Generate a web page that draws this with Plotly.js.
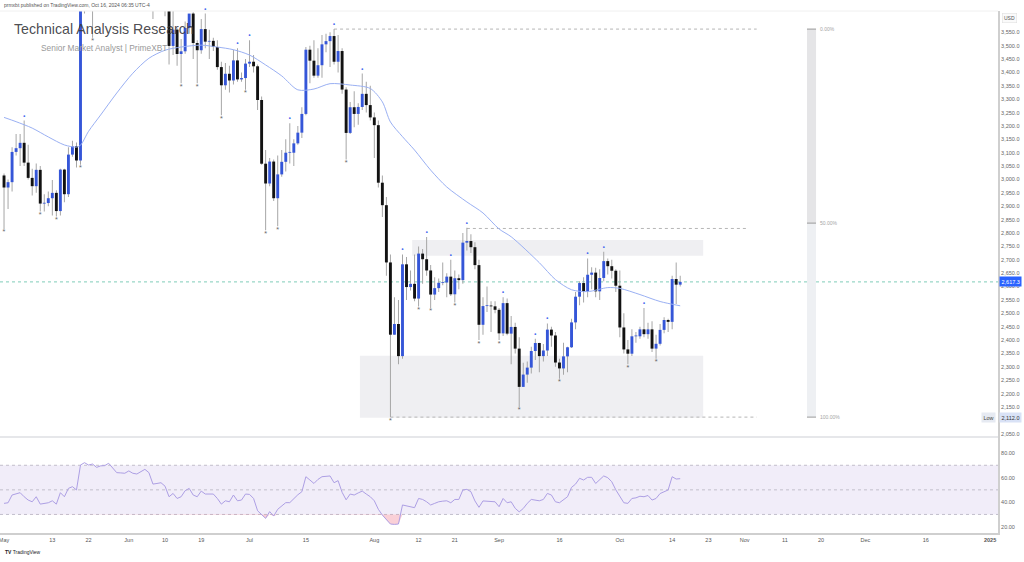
<!DOCTYPE html>
<html><head><meta charset="utf-8">
<script src="https://cdn.plot.ly/plotly-3.0.1.min.js"></script>
<style>html,body{margin:0;padding:0;background:#fff;}#chart{width:1024px;height:562px;}</style>
</head><body><div id="chart"></div>
<script>
// ---------- DATA (ETH/USD daily) ----------
const startDate = '2024-05-01';
const open = [3015,2970,2990,3103,3117,3137,3063,3006,2975,3036,
2910,2912,2930,2950,2882,3037,2945,3093,3124,3071,
3662,3792,3738,3780,3727,3747,3826,3893,3844,3768,
3747,3762,3815,3780,3767,3811,3866,3813,3681,3683,
3705,3667,3499,3560,3469,3479,3566,3620,3510,3483,
3562,3515,3518,3495,3420,3352,3395,3370,3445,3374,
3379,3433,3440,3423,3297,3059,2985,3067,2930,3019,
3066,3100,3100,3135,3175,3245,3485,3444,3388,3427,
3505,3517,3536,3440,3480,3336,3174,3270,3245,3271,
3320,3278,3232,3203,2988,2904,2690,2420,2460,2340,
2683,2598,2610,2555,2723,2702,2660,2570,2594,2614,
2615,2637,2571,2631,2624,2764,2770,2747,2680,2457,
2527,2528,2526,2513,2425,2538,2424,2449,2368,2225,
2271,2297,2359,2389,2340,2361,2439,2417,2316,2294,
2339,2373,2466,2562,2613,2581,2644,2652,2582,2632,
2695,2676,2659,2603,2447,2365,2349,2414,2414,2440,
2422,2440,2368,2386,2438,2475,2468,2628,2607];
const high = [3022,3000,3120,3170,3170,3220,3130,3040,3060,3050,
2945,2955,2998,2960,3040,3040,3120,3145,3138,3690,
3840,3815,3950,3830,3800,3880,3975,3930,3885,3825,
3845,3835,3830,3850,3830,3888,3880,3840,3710,3720,
3710,3675,3655,3565,3525,3590,3610,3625,3520,3600,
3620,3560,3530,3520,3440,3435,3425,3485,3490,3400,
3450,3520,3465,3430,3310,3110,3080,3075,3090,3110,
3150,3210,3150,3200,3270,3495,3500,3520,3490,3540,
3545,3550,3562,3540,3490,3345,3290,3330,3285,3396,
3365,3350,3250,3220,3015,2935,2720,2560,2550,2720,
2710,2660,2720,2750,2740,2785,2680,2635,2630,2690,
2650,2700,2660,2645,2800,2820,2795,2765,2700,2560,
2600,2545,2545,2520,2560,2555,2490,2465,2410,2315,
2320,2375,2405,2390,2385,2462,2450,2430,2330,2390,
2375,2480,2580,2620,2635,2705,2672,2670,2665,2730,
2705,2700,2665,2660,2500,2400,2440,2430,2450,2520,
2465,2470,2420,2460,2485,2480,2640,2690,2640];
const low = [2815,2890,2955,3090,3050,3050,3000,2940,2950,2880,
2880,2900,2865,2862,2865,2915,2935,3085,3045,3055,
3620,3680,3530,3630,3710,3740,3820,3770,3740,3700,
3725,3755,3755,3755,3730,3775,3760,3600,3670,3660,
3610,3430,3465,3425,3360,3470,3545,3450,3360,3470,
3490,3450,3480,3410,3240,3335,3325,3355,3365,3365,
3335,3420,3400,3260,3055,2810,2975,2920,2825,3010,
3030,3060,3050,3130,3155,3240,3360,3380,3380,3380,
3475,3420,3430,3400,3320,3075,3170,3195,3205,3260,
3250,3220,3080,2970,2860,2640,2112,2420,2310,2330,
2550,2585,2545,2525,2610,2640,2520,2550,2580,2605,
2560,2565,2540,2590,2610,2735,2725,2665,2400,2420,
2505,2430,2500,2400,2415,2418,2310,2350,2150,2225,
2240,2275,2325,2280,2320,2340,2375,2300,2255,2270,
2280,2370,2440,2530,2540,2560,2590,2560,2550,2620,
2645,2630,2580,2410,2350,2310,2340,2390,2405,2410,
2405,2355,2330,2380,2425,2430,2440,2535,2600];
const close = [2970,2990,3103,3117,3137,3063,3006,2975,3036,2910,
2912,2930,2950,2882,3037,2945,3093,3124,3071,3662,
3792,3738,3780,3727,3747,3826,3893,3844,3768,3747,
3762,3815,3780,3767,3811,3866,3813,3681,3683,3705,
3667,3499,3560,3469,3479,3566,3620,3510,3483,3562,
3515,3518,3495,3420,3352,3395,3370,3445,3374,3379,
3433,3440,3423,3297,3059,2985,3067,2930,3019,3066,
3100,3100,3135,3175,3245,3485,3444,3388,3427,3505,
3517,3536,3440,3480,3336,3174,3270,3245,3271,3320,
3278,3232,3203,2988,2904,2690,2420,2460,2340,2683,
2598,2610,2555,2723,2702,2660,2570,2594,2614,2615,
2637,2571,2631,2624,2764,2770,2747,2680,2457,2527,
2528,2526,2513,2425,2538,2424,2449,2368,2225,2271,
2297,2359,2389,2340,2361,2439,2417,2316,2294,2339,
2373,2466,2562,2613,2581,2644,2652,2582,2632,2695,
2676,2659,2603,2447,2365,2349,2414,2414,2440,2422,
2440,2368,2386,2438,2475,2468,2628,2607,2617.3];
const rsi = [39.0,39.5,45.8,47.0,47.7,44.4,41.7,40.3,44.4,38.4,
39.0,39.5,41.1,38.4,47.7,44.4,51.2,52.6,49.9,70.2,
72.1,70.2,71.0,68.3,69.5,69.7,71.6,67.6,64.0,63.8,
63.5,65.4,63.5,62.9,64.8,66.7,64.0,54.7,55.2,55.8,
53.0,44.4,47.1,43.0,44.4,49.3,51.2,45.8,44.4,49.0,
46.6,46.6,46.6,43.0,38.4,41.1,40.3,45.8,41.1,41.7,
46.6,46.3,43.0,33.0,29.5,26.8,32.3,28.7,34.2,37.0,
39.6,39.6,43.0,46.0,48.5,60.7,58.0,55.2,58.5,60.7,
61.0,61.3,55.8,57.5,48.0,41.9,46.6,45.8,47.5,49.0,
46.6,44.4,41.1,34.2,29.5,25.5,22.2,21.9,22.2,37.7,
36.9,36.0,35.5,43.0,42.2,40.3,37.7,39.0,40.3,40.8,
41.1,39.5,42.2,42.2,49.9,50.4,48.5,41.0,35.8,41.0,
40.8,40.5,40.3,36.3,43.0,39.5,40.3,35.0,32.1,34.8,
39.0,42.2,41.7,41.1,42.2,47.1,45.8,40.3,39.5,42.0,
44.4,52.0,54.7,59.4,58.0,60.2,60.2,55.2,58.0,61.3,
59.9,56.6,50.0,44.4,39.5,39.0,43.0,43.5,44.8,44.4,
45.4,41.7,43.0,47.0,48.5,49.9,60.7,58.8,59.1];
const maDates = ['2024-05-01','2024-05-04','2024-05-08','2024-05-12','2024-05-16','2024-05-19','2024-05-20','2024-05-22','2024-05-25','2024-05-29',
'2024-06-02','2024-06-06','2024-06-10','2024-06-14','2024-06-19','2024-06-23','2024-06-27','2024-07-01','2024-07-05','2024-07-09',
'2024-07-13','2024-07-17','2024-07-21','2024-07-26','2024-07-31','2024-08-03','2024-08-05','2024-08-08','2024-08-11','2024-08-15',
'2024-08-19','2024-08-24','2024-08-28','2024-09-01','2024-09-04','2024-09-11','2024-09-15','2024-09-19','2024-09-23','2024-09-28',
'2024-10-01','2024-10-06','2024-10-11','2024-10-16'];
const maValues = [3232,3216,3192,3159,3129,3121,3128,3180,3241,3323,
3397,3453,3483,3495,3502,3495,3485,3465,3428,3387,
3335,3338,3358,3353,3340,3290,3215,3160,3110,3035,
2972,2916,2875,2815,2786,2689,2626,2588,2581,2596,
2593,2570,2544,2528];
const pivotHighDates = ['2024-05-06','2024-06-20','2024-06-28','2024-07-01','2024-07-11','2024-07-22','2024-07-29','2024-08-08','2024-08-14','2024-08-20','2024-08-24','2024-09-02','2024-09-10','2024-09-13','2024-09-23','2024-09-27','2024-10-07'];
const pivotLowDates = ['2024-05-01','2024-05-10','2024-05-14','2024-05-20','2024-05-23','2024-06-14','2024-06-18','2024-06-24','2024-06-30','2024-07-05','2024-07-08','2024-07-25','2024-08-05','2024-08-12','2024-08-15','2024-08-21','2024-08-27','2024-09-01','2024-09-06','2024-09-16','2024-10-03','2024-10-10'];
const xTickDates = ['2024-05-01','2024-05-13','2024-05-22','2024-06-01','2024-06-10','2024-06-19','2024-07-01','2024-07-15','2024-08-01','2024-08-12','2024-08-21','2024-09-01','2024-09-16','2024-10-01','2024-10-14','2024-10-23','2024-11-01','2024-11-11','2024-11-20','2024-12-01','2024-12-16','2025-01-01'];
const xTickLabels = ['May','13','22','Jun','10','19','Jul','15','Aug','12','21','Sep','16','Oct','14','23','Nov','11','20','Dec','16','<b>2025</b>'];
const priceTicks = [2050,2150,2200,2250,2300,2350,2400,2450,2500,2550,2600,2650,2700,2750,2800,2850,2900,2950,3000,3050,3100,3150,3200,3250,3300,3350,3400,3450,3500,3550];
const rsiTicks = [20,40,60,80];
const rsiLevels = [30,50,70];
const lastPrice = 2617.3;
const lowPrice = 2112.0;
const fibLevels = [3562, 2837, 2112];
const fibLabels = ['0.00%','50.00%','100.00%'];
const zones = [
  {x0:'2024-08-10T10:00', x1:'2024-10-21T17:00', y0:2715, y1:2774},
  {x0:'2024-07-28T10:00', x1:'2024-10-21T17:00', y0:2110, y1:2341}
];
const rays = [
  {x0:'2024-07-22', x1:'2024-11-04', y:3562},
  {x0:'2024-08-24', x1:'2024-11-02', y:2817},
  {x0:'2024-08-05', x1:'2024-11-04', y:2112}
];

// ---------- BUILD ----------
function addDays(s, n){ const d = new Date(s + 'T00:00:00Z'); d.setUTCDate(d.getUTCDate() + n); return d.toISOString().slice(0,10); }
const dates = close.map((_, i) => addDays(startDate, i));
const DAY = 86400000;
const BLUE = '#3556d8', BLACK = '#121212', WICK = '#a3a3a3';

const wick = {type:'bar', x:dates, base:low, y:high.map((h,i)=>h-low[i]), width:DAY*0.24,
  marker:{color:WICK, line:{width:0}}, xaxis:'x', yaxis:'y', hoverinfo:'skip', showlegend:false};
const body = {type:'bar', x:dates, base:open.map((o,i)=>Math.min(o,close[i])),
  y:open.map((o,i)=>Math.max(Math.abs(close[i]-o),3)), width:DAY*0.72,
  marker:{color:open.map((o,i)=>close[i]>=o?BLUE:BLACK), line:{width:0}},
  xaxis:'x', yaxis:'y', hoverinfo:'skip', showlegend:false};
const ma = {type:'scatter', mode:'lines', x:maDates, y:maValues, line:{color:'#9ab0f3', width:1, shape:'spline', smoothing:0.8},
  xaxis:'x', yaxis:'y', hoverinfo:'skip', showlegend:false};
const ph = {type:'scatter', mode:'text', x:pivotHighDates, y:pivotHighDates.map(d=>high[dates.indexOf(d)]),
  text:pivotHighDates.map(()=> '•'), textposition:'top center', textfont:{color:'#4a6cf0', size:8},
  xaxis:'x', yaxis:'y', hoverinfo:'skip', showlegend:false, cliponaxis:false};
const pl = {type:'scatter', mode:'text', x:pivotLowDates, y:pivotLowDates.map(d=>low[dates.indexOf(d)]),
  text:pivotLowDates.map(()=> '*'), textposition:'bottom center', textfont:{color:'#555', size:6},
  xaxis:'x', yaxis:'y', hoverinfo:'skip', showlegend:false};
const r30 = {type:'scatter', mode:'lines', x:dates, y:dates.map(()=>rsiLevels[0]), line:{width:0, color:'rgba(0,0,0,0)'},
  xaxis:'x', yaxis:'y2', hoverinfo:'skip', showlegend:false};
const rOver = {type:'scatter', mode:'lines', x:dates, y:rsi.map(v=>Math.min(v,rsiLevels[0])), line:{width:0, color:'rgba(0,0,0,0)'},
  fill:'tonexty', fillcolor:'rgba(242,120,140,0.35)', xaxis:'x', yaxis:'y2', hoverinfo:'skip', showlegend:false};
const rsiLine = {type:'scatter', mode:'lines', x:dates, y:rsi, line:{color:'#ad9fe4', width:1},
  xaxis:'x', yaxis:'y2', hoverinfo:'skip', showlegend:false};

const shapes = [];
zones.forEach(z => shapes.push({type:'rect', xref:'x', yref:'y', x0:z.x0, x1:z.x1, y0:z.y0, y1:z.y1, fillcolor:'#efeff2', line:{width:0}, layer:'below'}));
rays.forEach(r => shapes.push({type:'line', xref:'x', yref:'y', x0:r.x0, x1:r.x1, y0:r.y, y1:r.y, line:{color:'#b5b5b5', width:1, dash:'dot'}, layer:'below'}));
shapes.push({type:'rect', xref:'x', yref:'y', x0:'2024-11-16T12:00', x1:'2024-11-18T18:00', y0:fibLevels[1], y1:fibLevels[0], fillcolor:'#e5e5e7', line:{width:0}, layer:'below'});
shapes.push({type:'rect', xref:'x', yref:'y', x0:'2024-11-16T12:00', x1:'2024-11-18T18:00', y0:fibLevels[2], y1:fibLevels[1], fillcolor:'#eef0f3', line:{width:0}, layer:'below'});
fibLevels.forEach(v => shapes.push({type:'line', xref:'x', yref:'y', x0:'2024-11-16T12:00', x1:'2024-11-18T18:00', y0:v, y1:v, line:{color:'#9a9a9a', width:1}, layer:'below'}));
shapes.push({type:'line', xref:'paper', yref:'y', x0:0, x1:1, y0:lastPrice, y1:lastPrice, line:{color:'#7fcdb9', width:1, dash:'dot'}, layer:'below'});
shapes.push({type:'rect', xref:'paper', yref:'y2', x0:0, x1:1, y0:rsiLevels[0], y1:rsiLevels[2], fillcolor:'#f1edf9', line:{width:0}, layer:'below'});
rsiLevels.forEach(v => shapes.push({type:'line', xref:'paper', yref:'y2', x0:0, x1:1, y0:v, y1:v, line:{color:'#c2bfcc', width:1, dash:'dot'}, layer:'below'}));
const SPLIT = 0.1839;
shapes.push({type:'line', xref:'paper', yref:'paper', x0:0, x1:1, y0:SPLIT, y1:SPLIT, line:{color:'#e6e7ea', width:2}});
shapes.push({type:'line', xref:'paper', yref:'paper', x0:0, x1:1, y0:1, y1:1, line:{color:'#f0f0f0', width:1}});

const F = 'Liberation Sans, Arial, sans-serif';
const annotations = [
  {xref:'paper', yref:'paper', x:0.002, y:1, yshift:6, xanchor:'left', yanchor:'middle', showarrow:false,
    text:'prmxbt published on TradingView.com, Oct 16, 2024 06:35 UTC-4', font:{family:F, size:5, color:'#555'}},
  {xref:'paper', yref:'paper', x:0.0125, y:0.9655, xanchor:'left', yanchor:'middle', showarrow:false,
    text:'Technical Analysis Research', font:{family:F, size:14.2, color:'rgba(55,55,60,0.9)'}},
  {xref:'paper', yref:'paper', x:0.039, y:0.9295, xanchor:'left', yanchor:'middle', showarrow:false,
    text:'Senior Market Analyst | PrimeXBT', font:{family:F, size:8.4, color:'#9a9a9a'}},
  {xref:'paper', yref:'paper', x:1, y:1, xshift:4, yshift:-7, xanchor:'left', yanchor:'middle', showarrow:false,
    text:'USD', font:{family:F, size:5, color:'#555'}, bgcolor:'#fafafa', bordercolor:'#dcdcdc', borderwidth:0.5, borderpad:1.5},
  {xref:'paper', yref:'y', x:1, y:lastPrice, xshift:1, xanchor:'left', yanchor:'middle', showarrow:false,
    text:'2,617.3', font:{family:F, size:5.5, color:'#fff'}, bgcolor:'#2962ff', borderpad:1.5},
  {xref:'paper', yref:'y', x:1, y:lowPrice, xshift:-2, xanchor:'right', yanchor:'middle', showarrow:false,
    text:'Low', font:{family:F, size:5.5, color:'#444'}, bgcolor:'#e6eaf2', borderpad:1.5},
  {xref:'paper', yref:'y', x:1, y:lowPrice, xshift:1, xanchor:'left', yanchor:'middle', showarrow:false,
    text:'2,112.0', font:{family:F, size:5.5, color:'#333'}, bgcolor:'#d9e2f6', borderpad:1.5},
  {xref:'paper', yref:'paper', x:0.003, y:-0.0364, xanchor:'left', yanchor:'middle', showarrow:false,
    text:'<b>TV</b> TradingView', font:{family:F, size:5, color:'#222'}}
];
fibLevels.forEach((v,i) => annotations.push({xref:'x', yref:'y', x:'2024-11-19T06:00', y:v, xanchor:'left', yanchor:'middle', showarrow:false,
  text:fibLabels[i], font:{family:F, size:5, color:'#a5a5a5'}}));

const layout = {
  width:1024, height:562, margin:{l:0, r:26, t:11, b:29},
  paper_bgcolor:'#fff', plot_bgcolor:'#fff', barmode:'overlay', showlegend:false,
  xaxis:{type:'date', range:['2024-04-30T00:00','2025-01-02T23:00'], anchor:'y2',
    tickmode:'array', tickvals:xTickDates, ticktext:xTickLabels, ticks:'', showgrid:false, zeroline:false,
    ticklabeloverflow:'allow',
    showline:true, linecolor:'#cfcfcf', linewidth:2, tickfont:{family:F, size:5.5, color:'#555'}, fixedrange:true},
  yaxis:{domain:[SPLIT,1], range:[2037.7,3629.6], side:'right', anchor:'x', tickmode:'array', tickvals:priceTicks,
    tickformat:',.1f', ticks:'', showgrid:false, zeroline:false, showline:true, linecolor:'#cfcfcf', linewidth:2,
    tickfont:{family:F, size:5.5, color:'#666'}},
  yaxis2:{domain:[0,SPLIT], range:[14.9,93], side:'right', anchor:'x', tickmode:'array', tickvals:rsiTicks,
    tickformat:'.2f', ticks:'', showgrid:false, zeroline:false, showline:true, linecolor:'#cfcfcf', linewidth:2,
    tickfont:{family:F, size:5.5, color:'#666'}},
  shapes:shapes, annotations:annotations
};
Plotly.newPlot('chart', [r30, rOver, rsiLine, wick, body, ma, ph, pl], layout, {staticPlot:true, displayModeBar:false});
</script>
</body></html>
